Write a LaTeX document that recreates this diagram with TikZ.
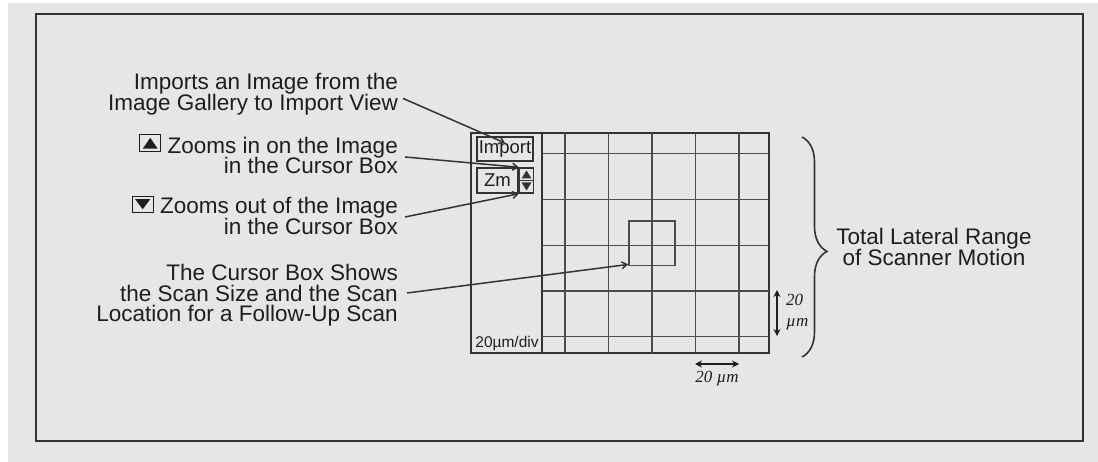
\documentclass[tikz,border=0pt]{standalone}
\usepackage{fontspec}
\setmainfont{Liberation Sans}
\newfontfamily\dimfont{Liberation Serif}
\usepackage{xcolor}
\usetikzlibrary{arrows.meta,positioning,decorations.pathreplacing}
\definecolor{panelgray}{HTML}{E6E6E6}
\definecolor{inkgray}{HTML}{333333}
\definecolor{textgray}{HTML}{1E1E1E}
\definecolor{gridgray}{HTML}{4C4C4C}
\newcommand{\lblfont}{\fontsize{22.5}{20.5}\selectfont\lineskiplimit=-20pt\relax}
\newcommand{\zoomupicon}{\tikz[baseline={(0pt,-1.5pt)}]{\draw[line width=1.4pt] (0pt,0pt) rectangle (21pt,17pt); \fill (3pt,3pt) -- (18pt,3pt) -- (10.5pt,14pt) -- cycle;}}
\newcommand{\zoomdownicon}{\tikz[baseline={(0pt,-1.5pt)}]{\draw[line width=1.4pt] (0pt,0pt) rectangle (21pt,16pt); \fill (3pt,13pt) -- (18pt,13pt) -- (10.5pt,3pt) -- cycle;}}

\begin{document}
\begin{tikzpicture}[x=1pt,y=-1pt,
	lbl/.style={font=\lblfont,align=right,inner sep=0pt,text=textgray,anchor=east},
	btn/.style={draw=inkgray,line width=1.5pt,inner sep=0pt,font=\fontsize{18.5}{18.5}\selectfont,text=textgray},
	frameln/.style={draw=inkgray,line width=2pt},
	gridln/.style={draw=gridgray,line width=1.9pt},
	lead/.style={draw=inkgray,line width=1.5pt,-{Straight Barb[length=5pt,width=7pt]}},
	dim/.style={draw=textgray,line width=1.9pt,{Stealth[length=7pt,width=7pt]}-{Stealth[length=7pt,width=7pt]}},
	dimlbl/.style={font=\dimfont\itshape\fontsize{17}{21}\selectfont,inner sep=0pt,text=textgray}]
	
	\useasboundingbox (0,0) rectangle (1098,462);
	\fill[white] (0,0) rectangle (1098,462);
	\fill[panelgray] (8,3) rectangle (1098,462);
	\draw[frameln] (36,14) rectangle (1083,441);
	
	\draw[frameln,line width=1.8pt] (471,133) rectangle (769,353);
	\draw[frameln,line width=1.8pt] (542,133) -- (542,353);
	\foreach \gx in {565,608.5,652,695.5,739}
		\draw[gridln] (\gx,133) -- (\gx,353);
	\foreach \gy in {153.5,199.5,245.5,291,336.5}
		\draw[gridln] (542,\gy) -- (769,\gy);
	
	\node[draw=gridgray,line width=1.8pt,minimum width=46pt,minimum height=44.5pt,inner sep=0pt] (cursorBox) at (652,243.3) {};
	
	\node[btn,minimum width=56pt,minimum height=24pt] (importBtn) at (505,149) {Import};
	\node[btn,minimum width=41pt,minimum height=25pt] (zmBox) at (497.5,180.5) {Zm};
	\node[btn,minimum width=14pt,minimum height=25pt,anchor=west] (zmSpin) at (zmBox.east) {};
	\draw[inkgray,line width=1.2pt] (zmSpin.west) -- (zmSpin.east);
	\fill[inkgray] ([xshift=-5pt,yshift=2pt]zmSpin.center) -- ([xshift=5pt,yshift=2pt]zmSpin.center) -- ([yshift=10pt]zmSpin.center) -- cycle;
	\fill[inkgray] ([xshift=-5pt,yshift=-2pt]zmSpin.center) -- ([xshift=5pt,yshift=-2pt]zmSpin.center) -- ([yshift=-10pt]zmSpin.center) -- cycle;
	
	\node[font=\fontsize{15.5}{15.5}\selectfont,inner sep=0pt,text=textgray] (divLbl) at (507,343) {20µm/div};
	
	\node[lbl] (importTxt) at (398,94.4) {Imports an Image from the\\Image Gallery to Import View};
	\node[lbl] (zoomInTxt) at (398,154) {\zoomupicon\ Zooms in on the Image\\in the Cursor Box};
	\node[lbl] (zoomOutTxt) at (398,215) {\zoomdownicon\ Zooms out of the Image\\in the Cursor Box};
	\node[lbl] (cursorTxt) at (398,295.6) {The Cursor Box Shows\\the Scan Size and the Scan\\Location for a Follow-Up Scan};
	\node[lbl,align=center,anchor=center] (rangeTxt) at (934,247) {Total Lateral Range\\of Scanner Motion};
	
	\draw[lead] ([xshift=5pt,yshift=-4pt]importTxt.east) -- ([yshift=6pt]importBtn.center);
	\draw[lead] ([xshift=7pt,yshift=-3pt]zoomInTxt.east) -- (zmSpin.north west);
	\draw[lead] ([xshift=7pt,yshift=-2pt]zoomOutTxt.east) -- (zmSpin.south west);
	\draw[lead] ([xshift=9pt,yshift=2.6pt]cursorTxt.east) -- ([yshift=2pt]cursorBox.south west);
	
	\draw[inkgray,line width=1.6pt,decorate,decoration={brace,amplitude=25pt,aspect=0.52}] (802,137) -- (802,357);
	
	\coordinate (vTop) at (777,290);
	\coordinate (vBot) at (777,336);
	\draw[dim] (vTop) -- (vBot);
	\node[dimlbl,align=left,anchor=west] (vDimLbl) at (786,312) {20\\µm};
	\coordinate (hLeft) at (695,364);
	\coordinate (hRight) at (739,364);
	\draw[dim] (hLeft) -- (hRight);
	\node[dimlbl] (hDimLbl) at (717,379) {20 µm};
	
\end{tikzpicture}
\end{document}
